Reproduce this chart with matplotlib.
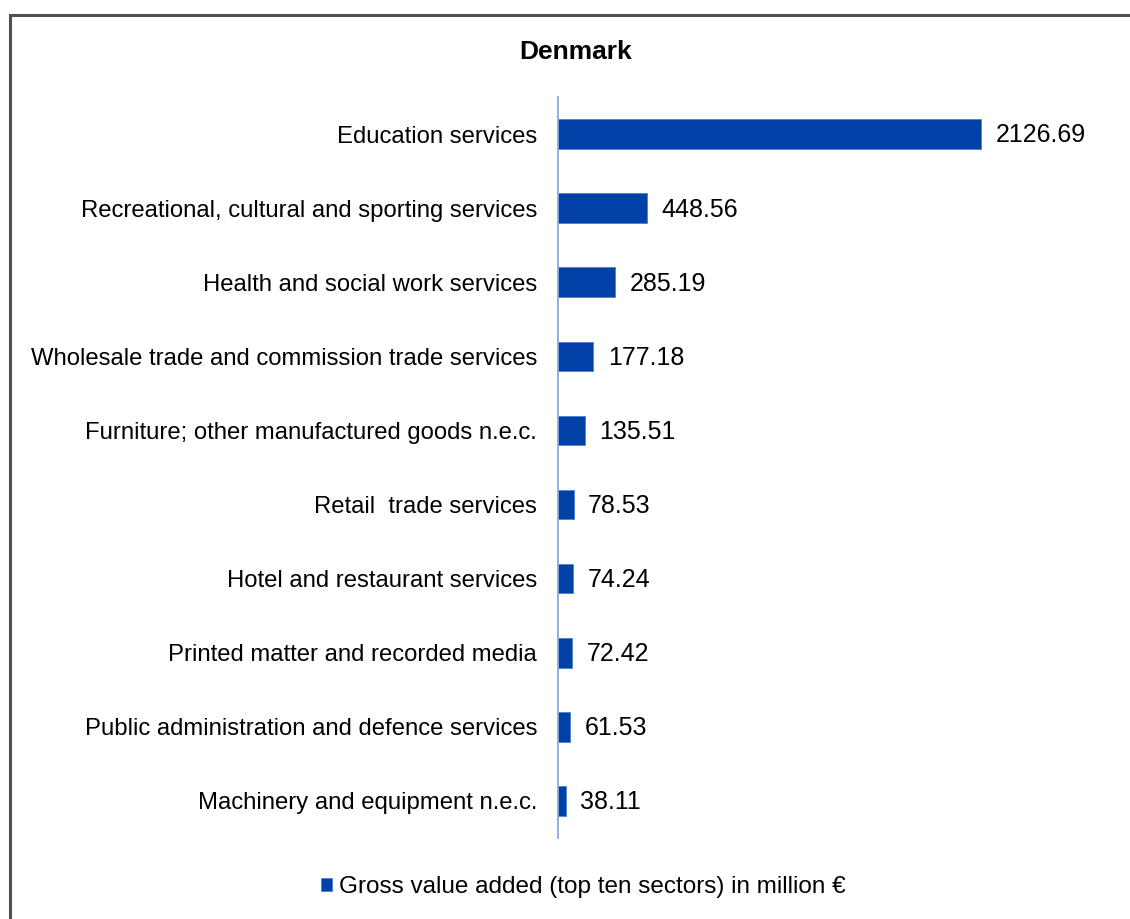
import matplotlib
matplotlib.use("Agg")
import matplotlib.pyplot as plt
from matplotlib.patches import Rectangle

sectors = [
    "Education services",
    "Recreational, cultural and sporting services",
    "Health and social work services",
    "Wholesale trade and commission trade services",
    "Furniture; other manufactured goods n.e.c.",
    "Retail  trade services",
    "Hotel and restaurant services",
    "Printed matter and recorded media",
    "Public administration and defence services",
    "Machinery and equipment n.e.c.",
]
values = [2126.69, 448.56, 285.19, 177.18, 135.51, 78.53, 74.24, 72.42, 61.53, 38.11]
series_name = "Gross value added (top ten sectors) in million €"
title = "Denmark"

plt.rcParams["font.family"] = ["Liberation Sans", "DejaVu Sans"]

W, H = 1130, 919
fig = plt.figure(figsize=(W / 100, H / 100), dpi=100)

# outer frame of the chart area
fig.patches.append(Rectangle((10 / W, -0.05), 1.2, 1 - 15 / H + 0.05,
                             transform=fig.transFigure, fill=False,
                             edgecolor="#505050", linewidth=2.2))

ax = fig.add_axes([558 / W, 81 / H, (1110 - 558) / W, (838 - 97) / H])
bar_color = "#0041A8"
y = list(range(len(sectors)))
ax.barh(y, values, height=0.4, color=bar_color, edgecolor="#4F7FD0", linewidth=0.6,
        label=series_name)
ax.set_ylim(len(sectors) - 0.5, -0.5)
ax.set_xlim(0, (1110 - 558) / 0.1989)
ax.set_yticks(y)
ax.set_yticklabels(sectors, fontsize=17.2)
ax.tick_params(axis="y", length=0, pad=15)
ax.set_xticks([])
for s in ["top", "right", "bottom"]:
    ax.spines[s].set_visible(False)
ax.spines["left"].set_color("#7FA3DA")
ax.spines["left"].set_linewidth(1.2)

for yi, v in zip(y, values):
    ax.annotate(f"{v:.2f}", (v, yi), xytext=(10.5, -1), textcoords="offset points",
                va="center", ha="left", fontsize=18)

fig.text(576 / W, 1 - 52 / H, title, ha="center", va="center",
         fontsize=19, fontweight="bold")

leg = fig.legend(loc="center", bbox_to_anchor=(583 / W, 1 - 887 / H), frameon=False,
                 fontsize=17.5, handlelength=0.45, handleheight=0.45, handletextpad=0.3)

fig.savefig("out.png", dpi=100, facecolor="white")
